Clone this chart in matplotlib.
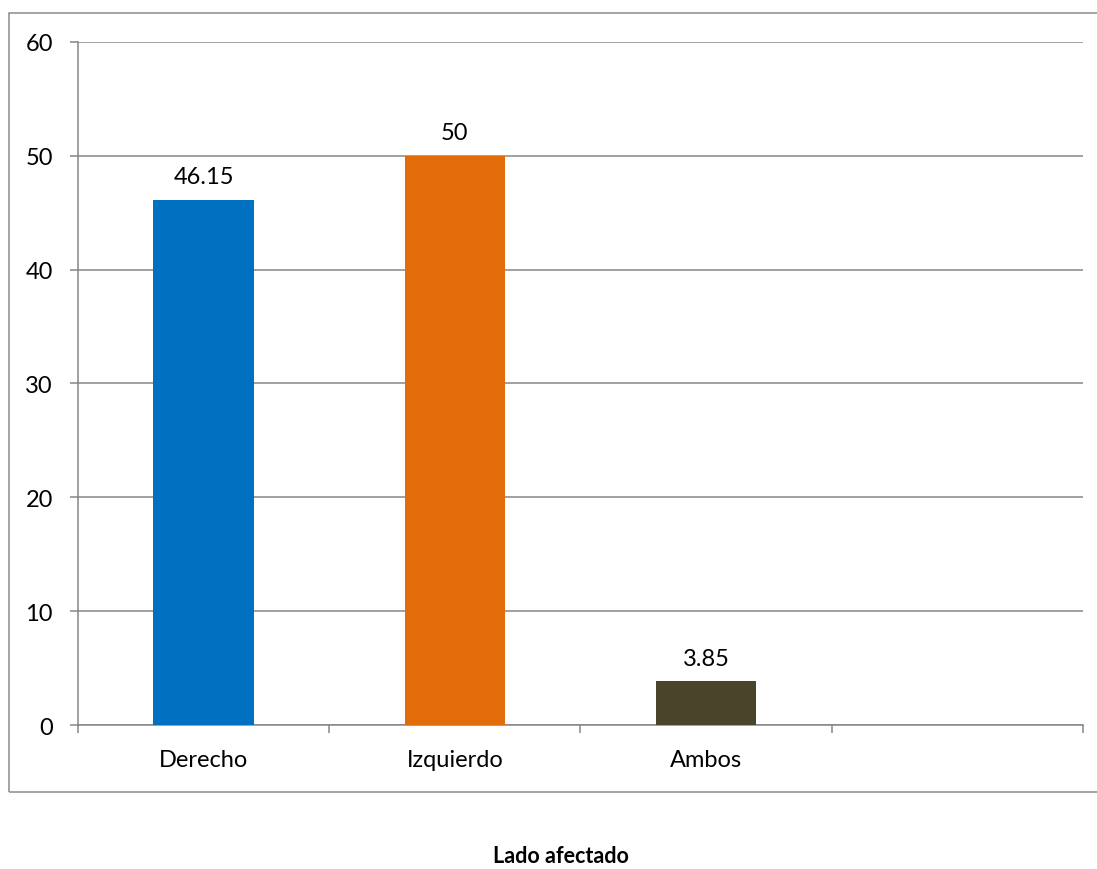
import matplotlib.pyplot as plt
from matplotlib.patches import Rectangle

# Lado afectado (%)
categories = ['Derecho', 'Izquierdo', 'Ambos']
values = [46.15, 50, 3.85]
value_labels = ['46.15', '50', '3.85']
bar_colors = ['#0070C0', '#E36C0A', '#4A452A']
y_ticks = [0, 10, 20, 30, 40, 50, 60]
n_slots = 4  # the category axis keeps one empty slot at the right

plt.rcParams['font.family'] = ['Lato', 'DejaVu Sans']
grid_gray = '#868686'

fig = plt.figure(figsize=(10.97, 8.7), dpi=100)
ax = fig.add_axes([0.0711, 0.1655, 0.9161, 0.7851])

x = list(range(len(categories)))
bars = ax.bar(x, values, width=0.4, color=bar_colors, zorder=3)

for b, lab in zip(bars, value_labels):
    ax.annotate(lab, (b.get_x() + b.get_width() / 2, b.get_height()),
                xytext=(0, 9), textcoords='offset points',
                ha='center', va='bottom', fontsize=17, color='black')

ax.set_xlim(-0.5, n_slots - 0.5)
ax.set_ylim(0, 60)
ax.set_yticks(y_ticks)
ax.set_yticklabels([str(t) for t in y_ticks])
ax.set_xticks(x)
ax.set_xticklabels(categories)
ax.set_xticks([i - 0.5 for i in range(n_slots + 1)], minor=True)

ax.yaxis.grid(True, color=grid_gray, linewidth=1.1, zorder=0)
ax.tick_params(axis='y', length=6, width=1.1, color=grid_gray, pad=12,
               labelsize=17)
ax.tick_params(axis='x', which='major', length=0, pad=17, labelsize=17)
ax.tick_params(axis='x', which='minor', length=6, width=1.1, color=grid_gray)

for side in ['top', 'right']:
    ax.spines[side].set_visible(False)
for side in ['left', 'bottom']:
    ax.spines[side].set_color(grid_gray)
    ax.spines[side].set_linewidth(1.1)

# outer chart frame (runs off the right edge)
fig.patches.append(Rectangle((0.0082, 0.0885), 1.05, 0.8954,
                             transform=fig.transFigure, fill=False,
                             edgecolor='#8C8C8C', linewidth=1.1))

fig.text(0.511, 0.008, 'Lado afectado', ha='center', va='baseline',
         fontsize=15.5, fontweight='bold')

fig.savefig('out.png', dpi=100)
